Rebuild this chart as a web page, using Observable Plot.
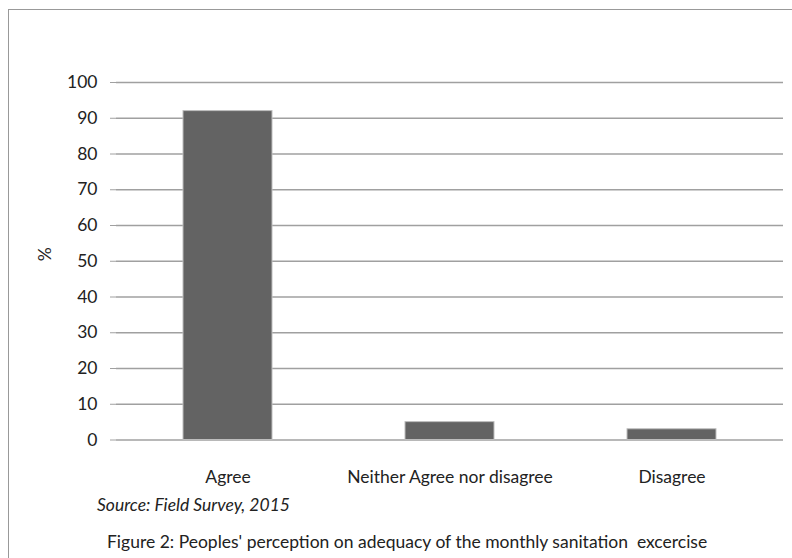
<!DOCTYPE html>
<html>
<head>
<meta charset="utf-8">
<script src="https://cdn.jsdelivr.net/npm/d3@7"></script>
<script src="https://cdn.jsdelivr.net/npm/@observablehq/plot@0.6"></script>
<style>
  html, body { margin: 0; padding: 0; background: #fff; }
  #wrap { position: relative; width: 792px; height: 558px; overflow: hidden; font-family: Lato, "Open Sans", sans-serif; color: #222; }
  #frame { position: absolute; left: 8px; top: 9px; width: 800px; height: 560px; border-left: 1.5px solid #999; border-top: 1.5px solid #999; }
  #chart { position: absolute; left: 0; top: 0; }
  .source { position: absolute; left: 97px; top: 494px; font-size: 17.5px; line-height: 21px; font-style: italic; white-space: nowrap; }
  .caption { position: absolute; left: 107px; top: 531px; font-size: 17.5px; line-height: 21px; white-space: nowrap; }
</style>
</head>
<body>
<div id="wrap">
  <div id="frame"></div>
  <div id="chart"></div>
  <div class="source">Source: Field Survey, 2015</div>
  <div class="caption">Figure 2: Peoples' perception on adequacy of the monthly sanitation&nbsp; excercise</div>
</div>
<script>
const categories = ["Agree", "Neither Agree nor disagree", "Disagree"];
const values = [92, 5, 3];
const yTicks = [0, 10, 20, 30, 40, 50, 60, 70, 80, 90, 100];
const yLabel = "%";

const data = categories.map((c, i) => ({category: c, value: values[i]}));

const chart = Plot.plot({
  width: 792,
  height: 495,
  marginLeft: 116,
  marginRight: 9,
  marginTop: 82,
  marginBottom: 55.5,
  style: {fontFamily: "Lato, 'Open Sans', sans-serif", fontSize: "17.5px", color: "#222", background: "transparent"},
  x: {domain: categories, paddingInner: 0.6, paddingOuter: 0.3, label: null},
  y: {domain: [0, 100], ticks: yTicks, label: null},
  marks: [
    Plot.ruleY(yTicks, {stroke: "#a0a0a0", strokeWidth: 1.3}),
    Plot.barY(data, {x: "category", y: "value", fill: "#636363", stroke: "#bdbdbd", strokeWidth: 1}),
    Plot.ruleX([0], {x: () => null, frameAnchor: "left", stroke: "#a0a0a0", strokeWidth: 1.3}),
    Plot.axisY({ticks: yTicks, tickSize: 6, tickPadding: 13, stroke: "#a0a0a0", label: null}),
    Plot.axisX({tickSize: 0, tickPadding: 31, label: null}),
    Plot.text([yLabel], {frameAnchor: "left", dx: -71, rotate: -90, fontSize: 17.5})
  ]
});
document.getElementById("chart").appendChild(chart);
</script>
</body>
</html>
